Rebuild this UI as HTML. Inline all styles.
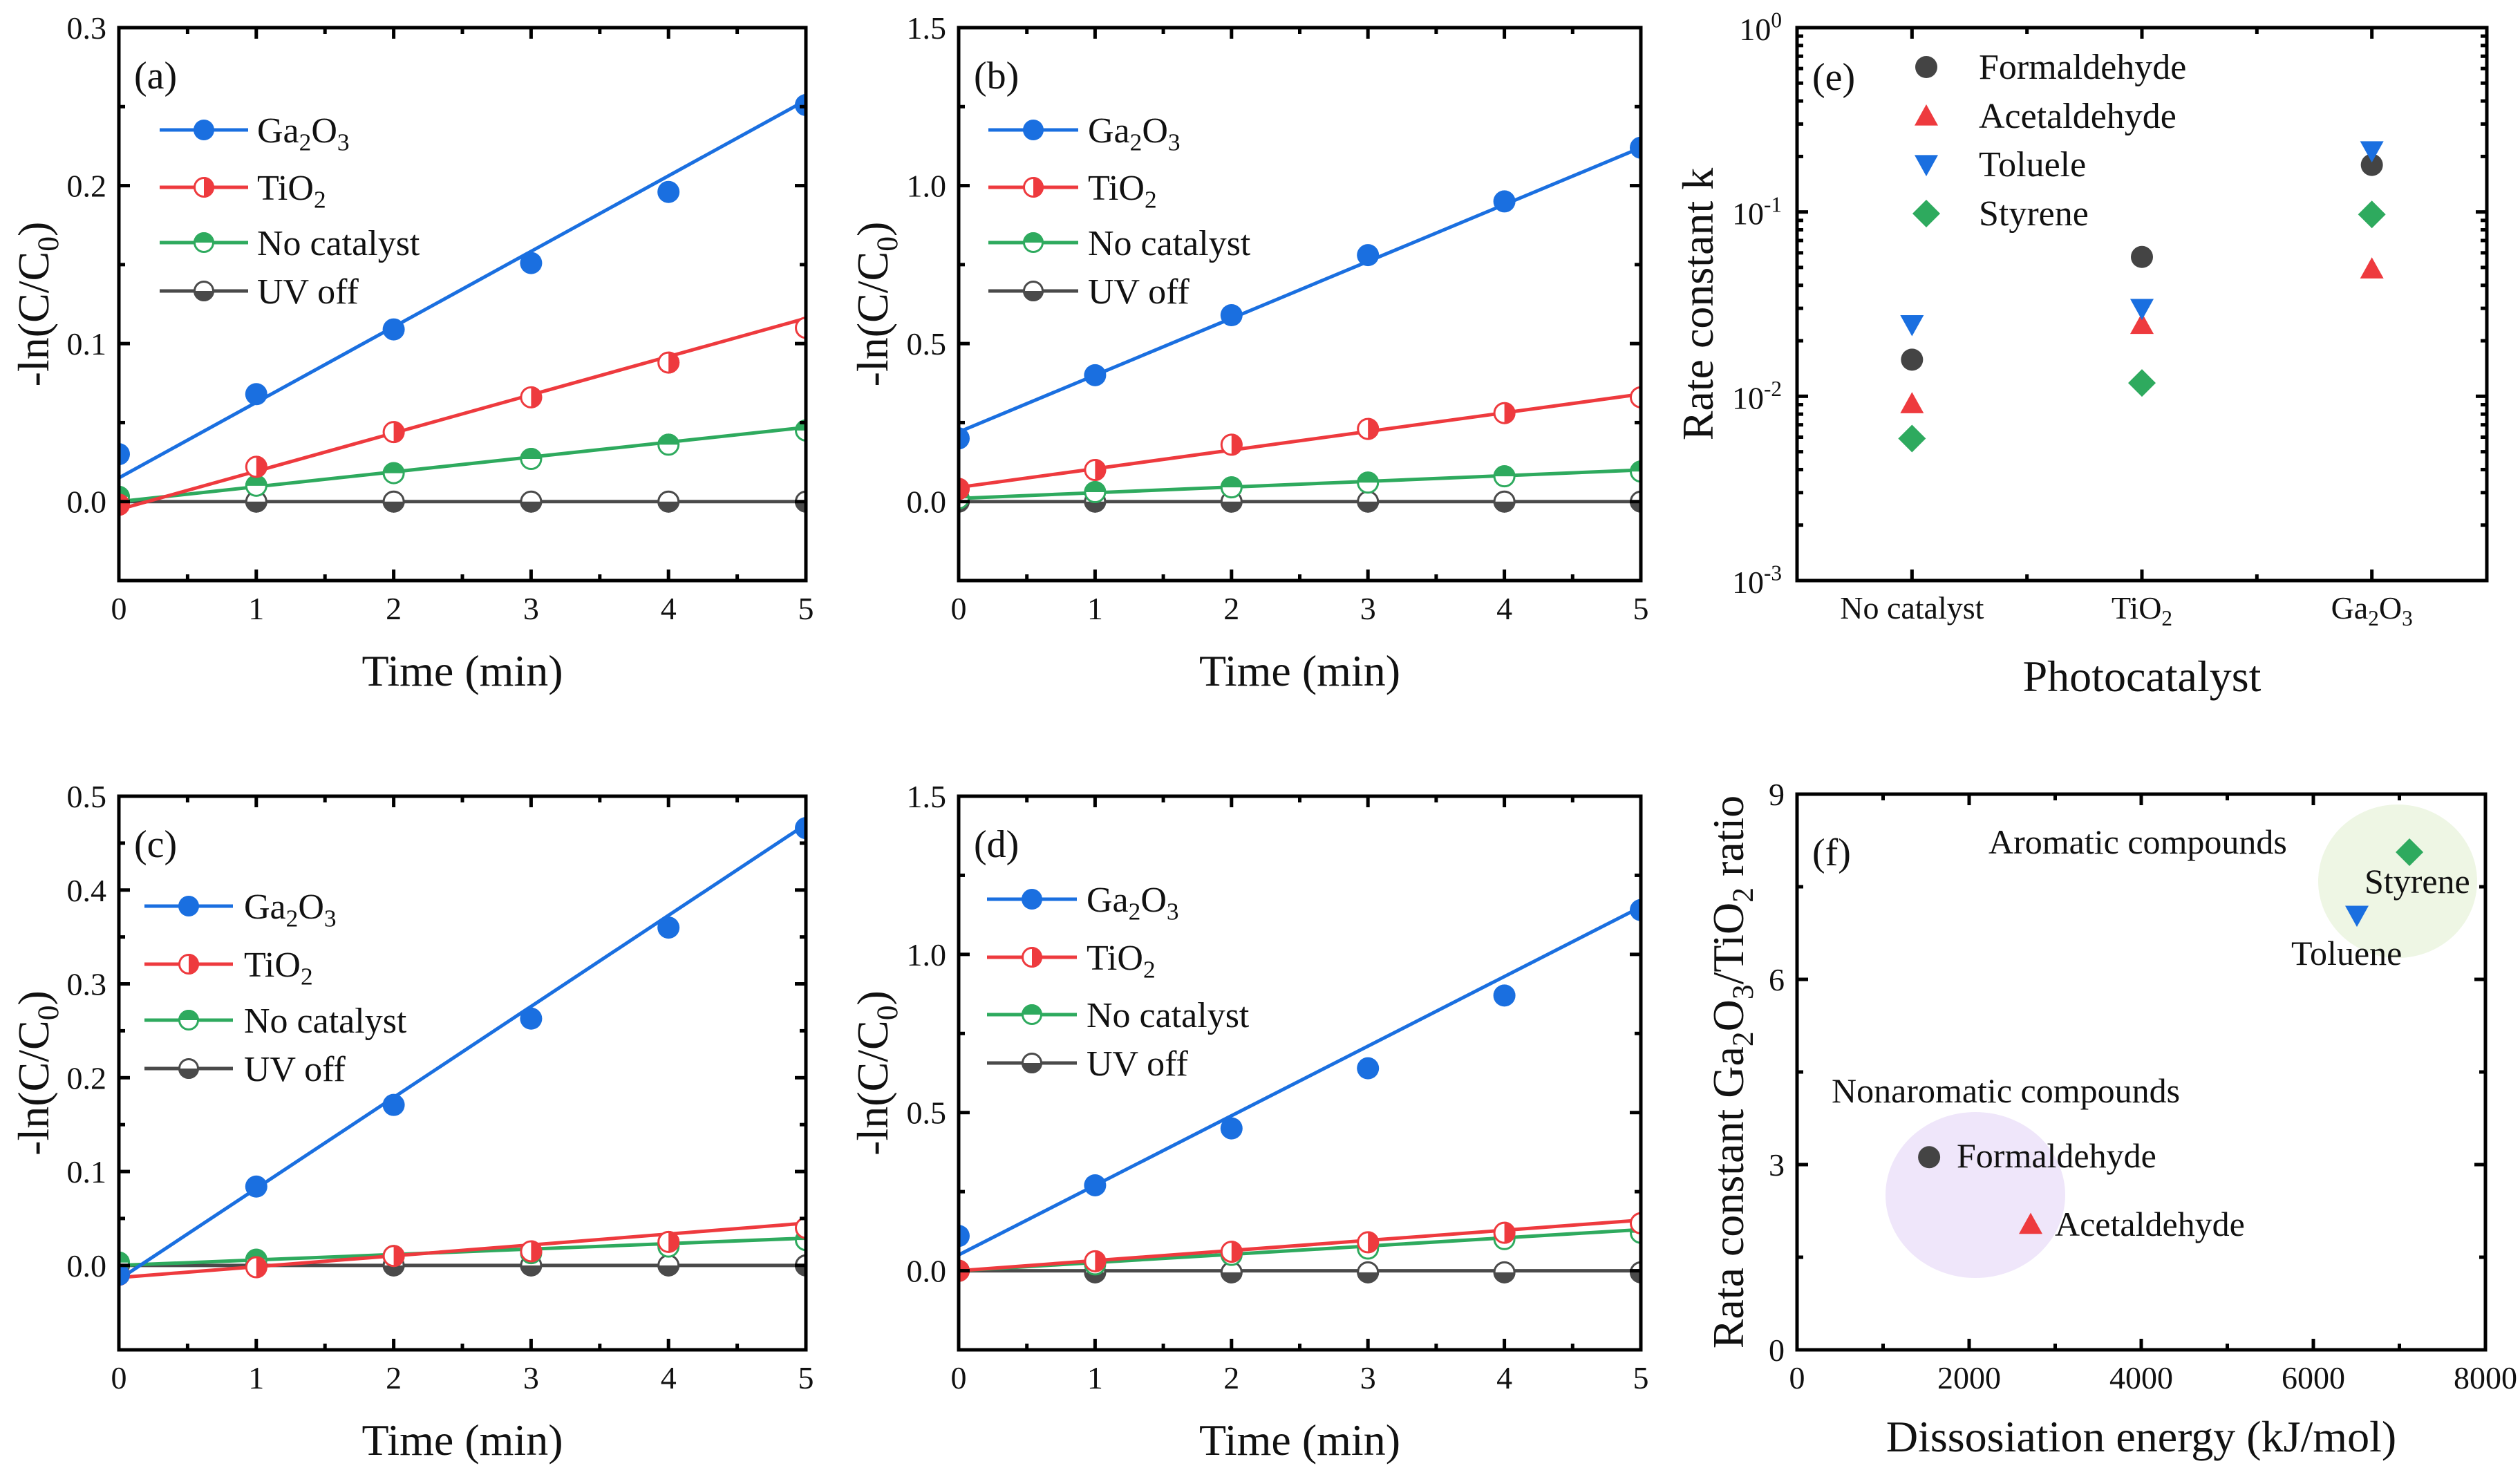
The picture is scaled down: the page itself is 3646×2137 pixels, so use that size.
<!DOCTYPE html>
<html><head><meta charset="utf-8">
<style>
html,body{margin:0;padding:0;background:#fff;}
svg{display:block;font-family:"Liberation Serif","Times New Roman",serif;}
svg text{font-family:"Liberation Serif","Times New Roman",serif;}
</style></head>
<body>
<svg id="fig" width="3646" height="2137" viewBox="0 0 3646 2137" xmlns="http://www.w3.org/2000/svg" font-family="Liberation Serif, serif">
<defs></defs>
</svg>
<script>
// ---------- data: kinetics panels (a)-(d) ----------
const timeCats = [0, 1, 2, 3, 4, 5];
const xTickLabels = ['0', '1', '2', '3', '4', '5'];
const seriesNames = ['Ga2O3', 'TiO2', 'No catalyst', 'UV off'];
// panel a
const aGa = [0.030, 0.068, 0.109, 0.151, 0.196, 0.251];
const aTi = [-0.002, 0.022, 0.044, 0.066, 0.088, 0.110];
const aNo = [0.003, 0.010, 0.018, 0.027, 0.036, 0.045];
const aUV = [0, 0, 0, 0, 0, 0];
const aFitGa = [0.015, 0.254];
const aFitTi = [-0.005, 0.116];
const aFitNo = [0.000, 0.047];
const aFitUV = [0, 0];
const aYTicks = [0.0, 0.1, 0.2, 0.3];
const aYLabels = ['0.0', '0.1', '0.2', '0.3'];
// panel b
const bGa = [0.20, 0.40, 0.59, 0.78, 0.95, 1.12];
const bTi = [0.04, 0.10, 0.18, 0.23, 0.28, 0.33];
const bNo = [0.01, 0.03, 0.045, 0.06, 0.08, 0.095];
const bUV = [0, 0, 0, 0, 0, 0];
const bFitGa = [0.22, 1.12];
const bFitTi = [0.045, 0.34];
const bFitNo = [0.01, 0.10];
const bFitUV = [0, 0];
const bYTicks = [0.0, 0.5, 1.0, 1.5];
const bYLabels = ['0.0', '0.5', '1.0', '1.5'];
// panel c
const cGa = [-0.01, 0.084, 0.171, 0.263, 0.360, 0.466];
const cTi = [-0.01, -0.002, 0.010, 0.015, 0.025, 0.040];
const cNo = [0.003, 0.006, 0.010, 0.013, 0.020, 0.027];
const cUV = [0, 0, 0, 0, 0, 0];
const cFitGa = [-0.015, 0.470];
const cFitTi = [-0.013, 0.045];
const cFitNo = [0.000, 0.029];
const cFitUV = [0, 0];
const cYTicks = [0.0, 0.1, 0.2, 0.3, 0.4, 0.5];
const cYLabels = ['0.0', '0.1', '0.2', '0.3', '0.4', '0.5'];
// panel d
const dGa = [0.11, 0.27, 0.45, 0.64, 0.87, 1.14];
const dTi = [0.00, 0.03, 0.06, 0.09, 0.12, 0.15];
const dNo = [0.00, 0.02, 0.05, 0.07, 0.10, 0.12];
const dUV = [0, -0.005, -0.005, -0.005, -0.005, -0.005];
const dFitGa = [0.05, 1.15];
const dFitTi = [0.00, 0.16];
const dFitNo = [0.00, 0.13];
const dFitUV = [0, 0];
const dYTicks = [0.0, 0.5, 1.0, 1.5];
const dYLabels = ['0.0', '0.5', '1.0', '1.5'];

// ---------- data: panel e ----------
const eCats = ['No catalyst', 'TiO2', 'Ga2O3'];
const eFormaldehyde = [0.0158, 0.057, 0.18];
const eAcetaldehyde = [0.0091, 0.0245, 0.049];
const eToluene = [0.0245, 0.030, 0.215];
const eStyrene = [0.0059, 0.0118, 0.097];
const eYExps = [-3, -2, -1, 0];

// ---------- data: panel f ----------
const fNames = ['Formaldehyde', 'Acetaldehyde', 'Toluene', 'Styrene'];
const fEnergy = [1535, 2715, 6506, 7117];
const fRatio = [3.12, 2.03, 7.04, 8.06];
const fXTicks = [0, 2000, 4000, 6000, 8000];
const fYTicks = [0, 3, 6, 9];

// ---------- helpers ----------
const NS = 'http://www.w3.org/2000/svg';
const svg = document.getElementById('fig');
const defs = svg.querySelector('defs');
const FONT = '"Liberation Serif", "Times New Roman", serif';
function mk(tag, attrs, parent) {
  const e = document.createElementNS(NS, tag);
  for (const k in attrs) e.setAttribute(k, attrs[k]);
  (parent || svg).appendChild(e);
  return e;
}
function txt(parent, x, y, size, anchor, parts, extra) {
  const t = mk('text', Object.assign({x: x, y: y, 'font-size': size, 'text-anchor': anchor, fill: '#111', 'font-family': FONT}, extra || {}), parent);
  t.style.fontFamily = FONT;
  parts.forEach(p => {
    const s = mk('tspan', {}, t);
    if (p[1] === 'sub') { s.setAttribute('font-size', size * 0.68); s.setAttribute('dy', size * 0.22); }
    if (p[1] === 'sup') { s.setAttribute('font-size', size * 0.68); s.setAttribute('dy', -size * 0.4); }
    if (p[1] === 'back') { s.setAttribute('dy', -size * 0.22); }
    s.textContent = p[0];
  });
  return t;
}
function formula(name) {
  if (name === 'Ga2O3') return [['Ga'], ['2', 'sub'], ['O', 'back'], ['3', 'sub']];
  if (name === 'TiO2') return [['TiO'], ['2', 'sub']];
  return [[name]];
}
const COL = {Ga2O3: '#1a6fe0', TiO2: '#ee3a3e', 'No catalyst': '#2eaa5e', 'UV off': '#4a4a4a'};
const FILL = {Ga2O3: 'full', TiO2: 'right', 'No catalyst': 'top', 'UV off': 'bottom'};
function marker(g, cx, cy, r, color, kind) {
  if (kind === 'full') return mk('circle', {cx: cx, cy: cy, r: r, fill: color}, g);
  const grp = mk('g', {}, g);
  mk('circle', {cx: cx, cy: cy, r: r - 1.5, fill: '#fff', stroke: color, 'stroke-width': 3}, grp);
  let d;
  if (kind === 'right') d = `M${cx},${cy - r} A${r},${r} 0 0 1 ${cx},${cy + r} Z`;
  if (kind === 'top') d = `M${cx - r},${cy} A${r},${r} 0 0 1 ${cx + r},${cy} Z`;
  if (kind === 'bottom') d = `M${cx + r},${cy} A${r},${r} 0 0 1 ${cx - r},${cy} Z`;
  mk('path', {d: d, fill: color}, grp);
  return grp;
}
function frame(g, L, T, R, B) {
  mk('rect', {x: L, y: T, width: R - L, height: B - T, fill: 'none', stroke: '#000', 'stroke-width': 5}, g);
}
function tickY(g, L, R, y, len) {
  mk('line', {x1: L, y1: y, x2: L + len, y2: y, stroke: '#000', 'stroke-width': 5}, g);
  mk('line', {x1: R, y1: y, x2: R - len, y2: y, stroke: '#000', 'stroke-width': 5}, g);
}
function tickX(g, T, B, x, len) {
  mk('line', {x1: x, y1: B, x2: x, y2: B - len, stroke: '#000', 'stroke-width': 5}, g);
  mk('line', {x1: x, y1: T, x2: x, y2: T + len, stroke: '#000', 'stroke-width': 5}, g);
}

// ---------- kinetics panel ----------
function kinetics(cfg) {
  const {id, L, R, T, B, ymin, ymax, series, fits, yTicks, yLabels, yMinor, leg, label, ytitleX} = cfg;
  const g = mk('g', {});
  
  
  const xs = v => L + (v - 0) / 5 * (R - L);
  const ys = v => B - (v - ymin) / (ymax - ymin) * (B - T);
  const cp = mk('clipPath', {id: 'clip-' + id}, defs);
  mk('rect', {x: L, y: T, width: R - L, height: B - T}, cp);
  const plot = mk('g', {'clip-path': `url(#clip-${id})`}, g);
  
  
  for (let i = seriesNames.length - 1; i >= 0; i--) {
    const n = seriesNames[i];
    const ln = mk('line', {x1: xs(0), y1: ys(fits[i][0]), x2: xs(5), y2: ys(fits[i][1]), stroke: COL[n], 'stroke-width': 5}, plot);
    
    
  }
  for (let i = seriesNames.length - 1; i >= 0; i--) {
    const n = seriesNames[i];
    series[i].forEach((v, j) => {
      const m = marker(plot, xs(timeCats[j]), ys(v), 16, COL[n], FILL[n]);
      
      
    });
  }
  frame(g, L, T, R, B);
  for (let v = 0; v <= 5; v += 0.5) {
    const major = Number.isInteger(v);
    tickX(g, T, B, xs(v), major ? 16 : 9);
  }
  timeCats.forEach((v, j) => {
    const t = txt(g, xs(v), B + 56, 46, 'middle', [[xTickLabels[j]]]);
    
    
  });
  yTicks.forEach((v, j) => {
    tickY(g, L, R, ys(v), 16);
    const t = txt(g, L - 18, ys(v) + 16, 46, 'end', [[yLabels[j]]]);
    
    
  });
  yMinor.forEach(v => tickY(g, L, R, ys(v), 9));
  const xt = txt(g, (L + R) / 2, B + 152, 64, 'middle', [['Time (min)']]);
  
  
  const yt = txt(g, 0, 0, 64, 'middle', [['-ln(C/C'], ['0', 'sub'], [')', 'back']], {transform: `translate(${ytitleX},${(T + B) / 2}) rotate(-90)`});
  
  
  const pl = txt(g, L + 22, T + 88, 56, 'start', [[label]]);
  
  
  const lg = mk('g', {}, g);
  
  
  seriesNames.forEach((n, i) => {
    const y = leg.rows[i];
    const e = mk('g', {}, lg);
    
    
    mk('line', {x1: leg.x1, y1: y, x2: leg.x2, y2: y, stroke: COL[n], 'stroke-width': 5}, e);
    marker(e, (leg.x1 + leg.x2) / 2, y, 15, COL[n], FILL[n]);
    txt(e, leg.tx, y + 18, 52, 'start', formula(n));
  });
}

kinetics({id: 'a', L: 172, R: 1166, T: 40, B: 840, ymin: -0.05, ymax: 0.3,
  series: [aGa, aTi, aNo, aUV], fits: [aFitGa, aFitTi, aFitNo, aFitUV],
  yTicks: aYTicks, yLabels: aYLabels, yMinor: [-0.05, 0.05, 0.15, 0.25], label: '(a)', ytitleX: 70,
  leg: {x1: 231, x2: 359, tx: 372, rows: [188, 271, 351, 421]}});
kinetics({id: 'b', L: 1387, R: 2374, T: 40, B: 840, ymin: -0.25, ymax: 1.5,
  series: [bGa, bTi, bNo, bUV], fits: [bFitGa, bFitTi, bFitNo, bFitUV],
  yTicks: bYTicks, yLabels: bYLabels, yMinor: [-0.25, 0.25, 0.75, 1.25], label: '(b)', ytitleX: 1284,
  leg: {x1: 1430, x2: 1560, tx: 1574, rows: [188, 271, 351, 421]}});
kinetics({id: 'c', L: 172, R: 1166, T: 1152, B: 1953, ymin: -0.09, ymax: 0.5,
  series: [cGa, cTi, cNo, cUV], fits: [cFitGa, cFitTi, cFitNo, cFitUV],
  yTicks: cYTicks, yLabels: cYLabels, yMinor: [0.05, 0.15, 0.25, 0.35, 0.45], label: '(c)', ytitleX: 70,
  leg: {x1: 209, x2: 337, tx: 353, rows: [1311, 1395, 1476, 1546]}});
kinetics({id: 'd', L: 1387, R: 2374, T: 1152, B: 1953, ymin: -0.25, ymax: 1.5,
  series: [dGa, dTi, dNo, dUV], fits: [dFitGa, dFitTi, dFitNo, dFitUV],
  yTicks: dYTicks, yLabels: dYLabels, yMinor: [-0.25, 0.25, 0.75, 1.25], label: '(d)', ytitleX: 1284,
  leg: {x1: 1428, x2: 1558, tx: 1572, rows: [1301, 1385, 1468, 1538]}});

// ---------- panel e ----------
(function () {
  const L = 2600, R = 3598, T = 40, B = 840;
  const g = mk('g', {});
  
  
  const xs = i => L + (i + 0.5) / 3 * (R - L);
  const ys = v => B - (Math.log10(v) + 3) / 3 * (B - T);
  const COLS = {Formaldehyde: '#444', Acetaldehyde: '#ee3a3e', Toluene: '#1a6fe0', Styrene: '#2eaa5e'};
  function shape(p, kind, cx, cy) {
    const s = 17;
    if (kind === 'Formaldehyde') return mk('circle', {cx: cx, cy: cy, r: 16, fill: COLS[kind]}, p);
    if (kind === 'Acetaldehyde') return mk('polygon', {points: `${cx},${cy - s} ${cx + s},${cy + s * 0.8} ${cx - s},${cy + s * 0.8}`, fill: COLS[kind]}, p);
    if (kind === 'Toluene') return mk('polygon', {points: `${cx},${cy + s} ${cx + s},${cy - s * 0.8} ${cx - s},${cy - s * 0.8}`, fill: COLS[kind]}, p);
    return mk('polygon', {points: `${cx},${cy - 20} ${cx + 20},${cy} ${cx},${cy + 20} ${cx - 20},${cy}`, fill: COLS[kind]}, p);
  }
  frame(g, L, T, R, B);
  eYExps.forEach(e => {
    const y = ys(Math.pow(10, e));
    tickY(g, L, R, y, 16);
    const t = txt(g, L - 22, y + 18, 46, 'end', [['10'], [String(e), 'sup']]);
    
    
    if (e < 0) for (let k = 2; k <= 9; k++) tickY(g, L, R, ys(k * Math.pow(10, e)), 9);
  });
  for (let i = 0; i < 3; i++) tickX(g, T, B, xs(i), 16);
  for (let i = 0; i < 2; i++) tickX(g, T, B, xs(i + 0.5), 9);
  eCats.forEach((c, i) => {
    const t = txt(g, xs(i), 895, 46, 'middle', formula(c));
    
    
  });
  const groups = [['Formaldehyde', eFormaldehyde], ['Acetaldehyde', eAcetaldehyde], ['Toluene', eToluene], ['Styrene', eStyrene]];
  groups.forEach(([n, arr]) => {
    arr.forEach((v, i) => {
      const m = shape(g, n, xs(i), ys(v));
      
      
    });
  });
  const legRows = [97, 168, 238, 309];
  const legNames = ['Formaldehyde', 'Acetaldehyde', 'Toluele', 'Styrene'];
  groups.forEach(([n], i) => {
    const e = mk('g', {}, g);
    
    
    shape(e, n, 2787, legRows[i]);
    txt(e, 2863, legRows[i] + 17, 52, 'start', [[legNames[i]]]);
  });
  const pl = txt(g, L + 22, T + 90, 56, 'start', [['(e)']]);
  
  
  const xt = txt(g, (L + R) / 2, 1000, 64, 'middle', [['Photocatalyst']]);
  
  
  const yt = txt(g, 0, 0, 64, 'middle', [['Rate constant k']], {transform: `translate(2478,${(T + B) / 2}) rotate(-90)`});
  
  
})();

// ---------- panel f ----------
(function () {
  const L = 2600, R = 3596, T = 1149, B = 1953;
  const g = mk('g', {});
  
  
  const xs = v => L + v / 8000 * (R - L);
  const ys = v => B - v / 9 * (B - T);
  const e1 = mk('ellipse', {cx: 3469, cy: 1275, rx: 115, ry: 111, fill: '#eef6e4'}, g);
  
  
  const e2 = mk('ellipse', {cx: 2858, cy: 1729, rx: 130, ry: 120, fill: '#efe6fa'}, g);
  
  
  frame(g, L, T, R, B);
  fXTicks.forEach(v => {
    tickX(g, T, B, xs(v), 16);
    const t = txt(g, xs(v), 2009, 46, 'middle', [[String(v)]]);
    
    
  });
  [1000, 3000, 5000, 7000].forEach(v => tickX(g, T, B, xs(v), 9));
  fYTicks.forEach(v => {
    tickY(g, L, R, ys(v), 16);
    const t = txt(g, L - 18, ys(v) + 16, 46, 'end', [[String(v)]]);
    
    
  });
  [1.5, 4.5, 7.5].forEach(v => tickY(g, L, R, ys(v), 9));
  const cols = ['#444', '#ee3a3e', '#1a6fe0', '#2eaa5e'];
  fNames.forEach((n, i) => {
    const cx = xs(fEnergy[i]), cy = ys(fRatio[i]), s = 17;
    let m;
    if (i === 0) m = mk('circle', {cx: cx, cy: cy, r: 16, fill: cols[i]}, g);
    else if (i === 1) m = mk('polygon', {points: `${cx},${cy - s} ${cx + s},${cy + s * 0.8} ${cx - s},${cy + s * 0.8}`, fill: cols[i]}, g);
    else if (i === 2) m = mk('polygon', {points: `${cx},${cy + s} ${cx + s},${cy - s * 0.8} ${cx - s},${cy - s * 0.8}`, fill: cols[i]}, g);
    else m = mk('polygon', {points: `${cx},${cy - 20} ${cx + 20},${cy} ${cx},${cy + 20} ${cx - 20},${cy}`, fill: cols[i]}, g);
    
    
  });
  const notes = [['Aromatic compounds', 2877, 1235], ['Styrene', 3421, 1292], ['Toluene', 3315, 1396],
    ['Nonaromatic compounds', 2650, 1595], ['Formaldehyde', 2831, 1689], ['Acetaldehyde', 2973, 1788]];
  notes.forEach(([s, x, y]) => {
    const t = txt(g, x, y, 50, 'start', [[s]]);
    
    
  });
  const pl = txt(g, 2622, 1252, 56, 'start', [['(f)']]);
  
  
  const xt = txt(g, (L + R) / 2, 2100, 64, 'middle', [['Dissosiation energy (kJ/mol)']]);
  
  
  const yt = txt(g, 0, 0, 64, 'middle', [['Rata constant Ga'], ['2', 'sub'], ['O', 'back'], ['3', 'sub'], ['/TiO', 'back'], ['2', 'sub'], [' ratio', 'back']], {transform: `translate(2522,${(T + B) / 2}) rotate(-90)`});
  
  
})();
</script>
</body></html>
